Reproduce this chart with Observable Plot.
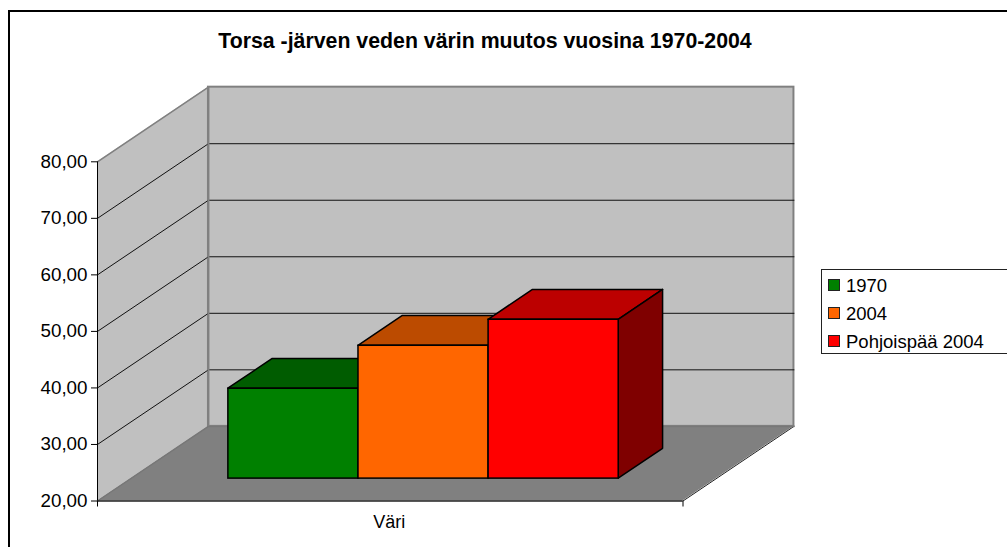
<!DOCTYPE html>
<html>
<head>
<meta charset="utf-8">
<script src="https://cdn.jsdelivr.net/npm/d3@7"></script>
<script src="https://cdn.jsdelivr.net/npm/@observablehq/plot@0.6"></script>
<style>
  html, body { margin: 0; padding: 0; background: #fff; overflow: hidden; }
  body { width: 1007px; height: 547px; position: relative; font-family: "Liberation Sans", Arial, sans-serif; color: #000; }
  #frame { position: absolute; left: 8px; top: 10px; width: 1100px; height: 700px; border: 2px solid #000; box-sizing: border-box; }
  #title { position: absolute; left: 0; width: 970px; top: 29px; text-align: center; font-size: 21.3px; font-weight: bold; white-space: nowrap; }
  #chart { position: absolute; left: 0; top: 0; }
  #legend { position: absolute; left: 821px; top: 269px; width: 300px; height: 85px; border: 1px solid #222; box-sizing: border-box; background: #fff; }
  .row { position: absolute; left: 7px; font-size: 18.5px; line-height: 20px; white-space: nowrap; }
  .sw { position: absolute; left: -1px; top: 4px; width: 10px; height: 10px; border: 1px solid #222; }
  .lab { margin-left: 17px; position: relative; top: 1px; }
</style>
</head>
<body>
<div id="frame"></div>
<div id="chart"></div>
<div id="title"></div>
<div id="legend"></div>
<script>
const titleText = "Torsa -järven veden värin muutos vuosina 1970-2004";
const series = ["1970", "2004", "Pohjoispää 2004"];
const values = [35.9, 43.5, 48.1];
const fronts = ["#008000", "#FF6600", "#FF0000"];
const tops = ["#005C00", "#BC4B00", "#BC0000"];
const sides = ["#004000", "#7F3300", "#7F0000"];
const yTicks = [20, 30, 40, 50, 60, 70, 80];
const category = "Väri";

// Oblique depth expressed in data units of the x and y scales
const depthX = 0.1895, depthY = 13.2;
const floorV = 20, ceilV = 80;
const barStart = 1 / 6, barWidth = 2 / 9, d0 = 0.3, d1 = 0.7;

const two = (a, b) => [a, b];
const fmt = d => d.toFixed(2).replace(".", ",");

const marks = [
  // left wall
  Plot.areaY(two(0, 1), {x: d => d * depthX, y1: d => floorV + d * depthY, y2: d => ceilV + d * depthY, fill: "#C0C0C0"}),
  // back wall
  Plot.rect([0], {x1: depthX, x2: 1 + depthX, y1: floorV + depthY, y2: ceilV + depthY, fill: "#C0C0C0", stroke: "#808080", strokeWidth: 2}),
  // floor
  Plot.areaX(two(0, 1), {y: d => floorV + d * depthY, x1: d => d * depthX, x2: d => 1 + d * depthX, fill: "#808080"}),
  Plot.line(two(0, 1), {x: d => 1 + d * depthX, y: d => floorV + d * depthY, stroke: "#222", strokeWidth: 1}),
  // gridlines
  ...yTicks.slice(1, -1).map(v => Plot.line([[0, v], [depthX, v + depthY], [1 + depthX, v + depthY]], {
    x: d => d[0], y: d => d[1], stroke: "#111", strokeWidth: 1
  })),
  // top and floor edge of the left wall, back-wall corner
  Plot.line([[0, ceilV], [depthX, ceilV + depthY]], {x: d => d[0], y: d => d[1], stroke: "#808080", strokeWidth: 1.5}),
  Plot.line([[0, floorV], [depthX, floorV + depthY], [1 + depthX, floorV + depthY]], {x: d => d[0], y: d => d[1], stroke: "#777", strokeWidth: 1.5}),
  Plot.ruleX([depthX], {y1: floorV + depthY, y2: ceilV + depthY, stroke: "#808080", strokeWidth: 2}),
  // bars
  ...values.flatMap((v, i) => {
    const xL = barStart + i * barWidth, xR = xL + barWidth;
    const y0 = floorV + d0 * depthY;
    const style = {stroke: "#000", strokeWidth: 1.5};
    return [
      Plot.areaX(two(d0, d1), {y: d => v + d * depthY, x1: d => xL + d * depthX, x2: d => xR + d * depthX, fill: tops[i], ...style}),
      Plot.areaY(two(d0, d1), {x: d => xR + d * depthX, y1: d => floorV + d * depthY, y2: d => v + d * depthY, fill: sides[i], ...style}),
      Plot.rect([v], {x1: xL + d0 * depthX, x2: xR + d0 * depthX, y1: y0, y2: v + d0 * depthY, fill: fronts[i], ...style})
    ];
  }),
  // axes
  Plot.ruleX([0], {y1: floorV, y2: ceilV, stroke: "#000", strokeWidth: 1}),
  Plot.ruleY([floorV], {x1: 0, x2: 1, stroke: "#222", strokeWidth: 1.5}),
  Plot.axisY({ticks: yTicks, tickFormat: fmt, tickSize: 6, tickPadding: 4, fontSize: 18.8, label: null, stroke: "#000"}),
  Plot.axisX({ticks: [0, 1], tickFormat: () => "", tickSize: 6, label: null, stroke: "#000"}),
  Plot.text([category], {x: 0.5, y: floorV, dx: -1, dy: 21, text: d => d, fontSize: 18, fill: "#000"})
];

const chart = Plot.plot({
  width: 1007, height: 547,
  marginLeft: 97, marginRight: 324.5, marginTop: 161.3, marginBottom: 46.5,
  style: {background: "transparent", fontFamily: '"Liberation Sans", Arial, sans-serif', color: "#000", overflow: "visible"},
  x: {domain: [0, 1]},
  y: {domain: [floorV, ceilV]},
  marks
});
document.getElementById("chart").append(chart);
document.getElementById("title").textContent = titleText;

const legend = document.getElementById("legend");
series.forEach((s, i) => {
  const row = document.createElement("div");
  row.className = "row";
  row.style.top = (5 + i * 28) + "px";
  const sw = document.createElement("span");
  sw.className = "sw";
  sw.style.background = fronts[i];
  const lab = document.createElement("span");
  lab.className = "lab";
  lab.textContent = s;
  row.append(sw, lab);
  legend.append(row);
});
</script>
</body>
</html>
